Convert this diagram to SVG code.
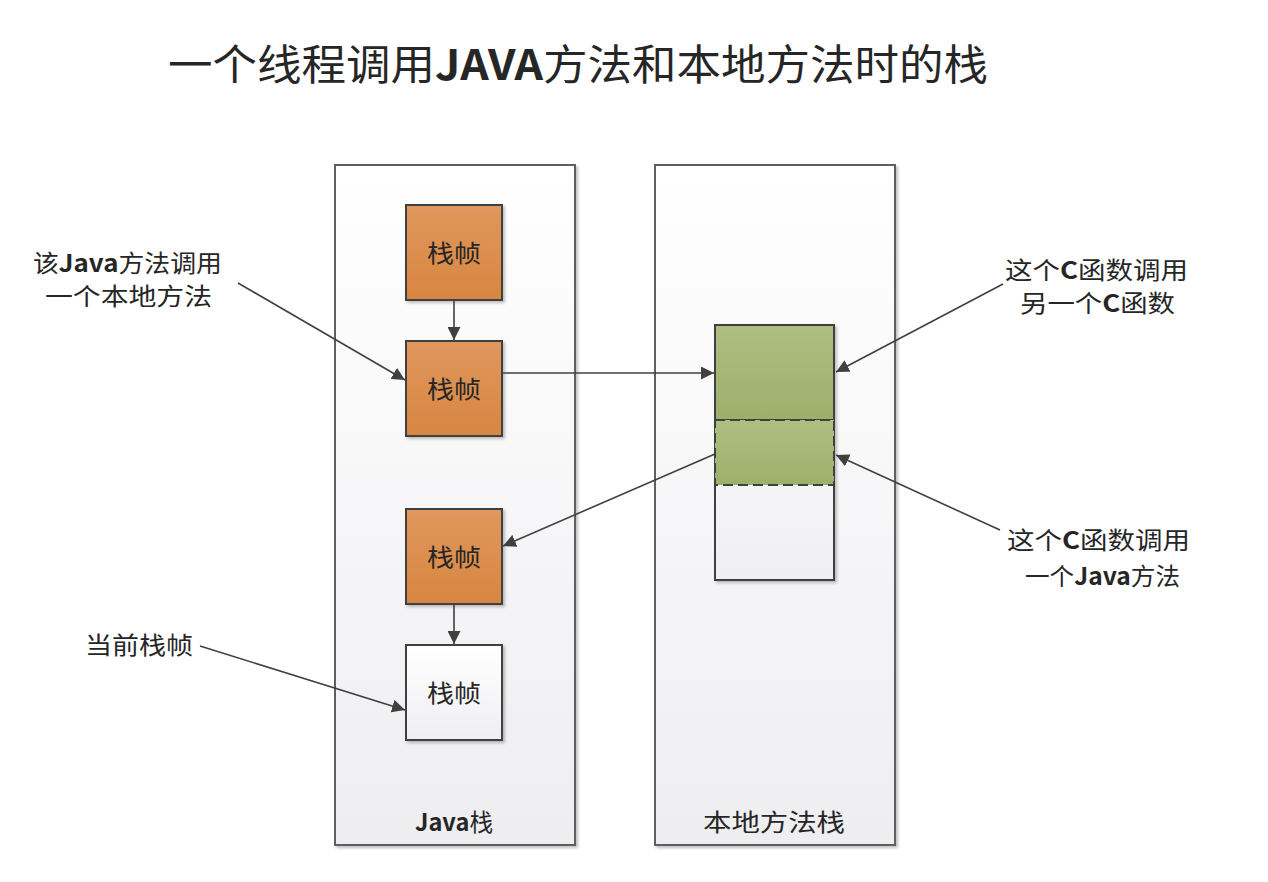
<svg xmlns="http://www.w3.org/2000/svg" width="1268" height="882" viewBox="0 0 1268 882">
<style>
text{font-family:"Noto Sans CJK SC","Liberation Sans",sans-serif;fill:#262626}
.t{font-size:24px}
.b{font-weight:bold}
.cont{fill:url(#gc);stroke:#5f5f5f;stroke-width:2}
.fr{stroke:#404040;stroke-width:2}
.ln{stroke:#404040;stroke-width:1.6;fill:none;marker-end:url(#ah)}
</style>
<defs>
<linearGradient id="gc" x1="0" y1="0" x2="0" y2="1"><stop offset="0" stop-color="#ffffff"/><stop offset="1" stop-color="#eeeef1"/></linearGradient>
<linearGradient id="go" x1="0" y1="0" x2="0" y2="1"><stop offset="0" stop-color="#e0975d"/><stop offset="1" stop-color="#d88640"/></linearGradient>
<linearGradient id="gg" x1="0" y1="0" x2="0" y2="1"><stop offset="0" stop-color="#adbf82"/><stop offset="1" stop-color="#9cb06b"/></linearGradient>
<linearGradient id="gw" x1="0" y1="0" x2="0" y2="1"><stop offset="0" stop-color="#ffffff"/><stop offset="1" stop-color="#efeff2"/></linearGradient>
<marker id="ah" viewBox="0 0 10 10" refX="10" refY="5" markerWidth="13" markerHeight="13" markerUnits="userSpaceOnUse" orient="auto"><path d="M0,0 L10,5 L0,10 z" fill="#404040"/></marker>
<filter id="sh" x="-10%" y="-10%" width="130%" height="130%"><feDropShadow dx="2" dy="2" stdDeviation="1.5" flood-color="#000" flood-opacity="0.25"/></filter>
</defs>
<rect width="1268" height="882" fill="#ffffff"/>
<text x="168" y="80" font-size="42" textLength="820" lengthAdjust="spacingAndGlyphs">一个线程调用<tspan class="b">JAVA</tspan>方法和本地方法时的栈</text>

<g id="java-stack">
<rect class="cont" x="335" y="165" width="240" height="680" filter="url(#sh)"/>
<text class="t" x="415" y="831" textLength="78" lengthAdjust="spacingAndGlyphs"><tspan class="b">Java</tspan>栈</text>
</g>
<g id="native-stack">
<rect class="cont" x="655" y="165" width="240" height="680" filter="url(#sh)"/>
<text class="t" x="703" y="831" textLength="142" lengthAdjust="spacingAndGlyphs">本地方法栈</text>
</g>

<g id="frame1"><rect class="fr" x="406" y="205" width="96" height="95" fill="url(#go)" filter="url(#sh)"/><text class="t" x="427" y="262" textLength="54" lengthAdjust="spacingAndGlyphs">栈帧</text></g>
<g id="frame2"><rect class="fr" x="406" y="341" width="96" height="95" fill="url(#go)" filter="url(#sh)"/><text class="t" x="427" y="398" textLength="54" lengthAdjust="spacingAndGlyphs">栈帧</text></g>
<g id="frame3"><rect class="fr" x="406" y="509" width="96" height="95" fill="url(#go)" filter="url(#sh)"/><text class="t" x="427" y="566" textLength="54" lengthAdjust="spacingAndGlyphs">栈帧</text></g>
<g id="frame4"><rect class="fr" x="406" y="645" width="96" height="95" fill="url(#gw)" filter="url(#sh)"/><text class="t" x="427" y="702" textLength="54" lengthAdjust="spacingAndGlyphs">栈帧</text></g>

<g id="native-block">
<rect x="715" y="325" width="119" height="255" fill="url(#gw)" stroke="#404040" stroke-width="2" filter="url(#sh)"/>
<rect x="715" y="325" width="119" height="95" fill="url(#gg)" stroke="#404040" stroke-width="2"/>
<rect x="715" y="420" width="119" height="65" fill="url(#gg)" stroke="#404040" stroke-width="2" stroke-dasharray="10,5"/>
</g>

<g id="labels">
<text class="t" x="33" y="272" textLength="189" lengthAdjust="spacingAndGlyphs">该<tspan class="b">Java</tspan>方法调用</text>
<text class="t" x="45" y="305" textLength="167" lengthAdjust="spacingAndGlyphs">一个本地方法</text>
<text class="t" x="1005" y="279" textLength="183" lengthAdjust="spacingAndGlyphs">这个<tspan class="b">C</tspan>函数调用</text>
<text class="t" x="1020" y="312" textLength="155" lengthAdjust="spacingAndGlyphs">另一个<tspan class="b">C</tspan>函数</text>
<text class="t" x="1007" y="549" textLength="183" lengthAdjust="spacingAndGlyphs">这个<tspan class="b">C</tspan>函数调用</text>
<text class="t" x="1025" y="585" textLength="155" lengthAdjust="spacingAndGlyphs">一个<tspan class="b">Java</tspan>方法</text>
<text class="t" x="85" y="654" textLength="108" lengthAdjust="spacingAndGlyphs">当前栈帧</text>
</g>

<g id="connectors">
<line class="ln" x1="454" y1="300" x2="454" y2="340"/>
<line class="ln" x1="454" y1="604" x2="454" y2="644"/>
<line class="ln" x1="502" y1="373" x2="714" y2="373"/>
<line class="ln" x1="715" y1="454" x2="503" y2="546"/>
<line class="ln" x1="238" y1="283" x2="405" y2="380"/>
<line class="ln" x1="1003" y1="284" x2="836" y2="372"/>
<line class="ln" x1="1000" y1="530" x2="836" y2="455"/>
<line class="ln" x1="200" y1="646" x2="405" y2="710"/>
</g>
</svg>
